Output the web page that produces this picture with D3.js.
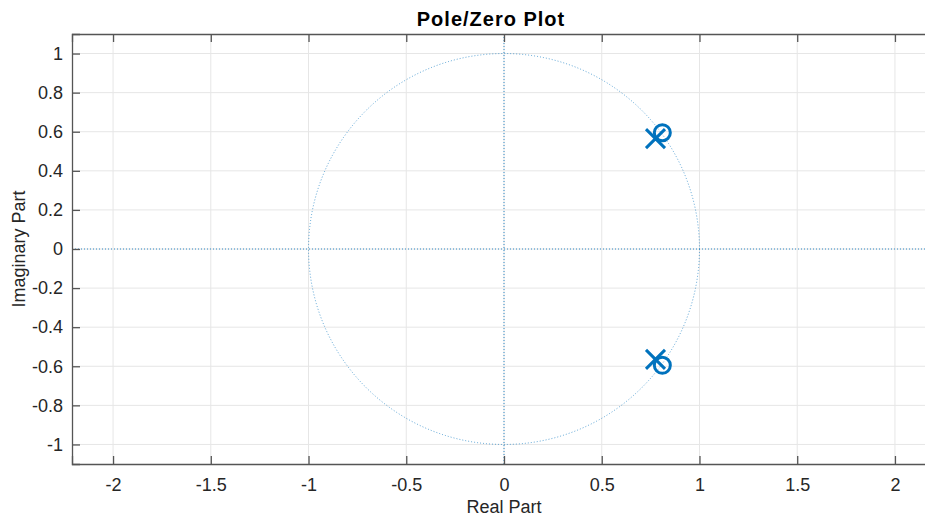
<!DOCTYPE html>
<html>
<head>
<meta charset="utf-8">
<script src="https://cdn.jsdelivr.net/npm/d3@7"></script>
<style>
  body { margin: 0; background: #fff; }
  svg { font-family: "Liberation Sans", Arial, sans-serif; }
</style>
</head>
<body>
<svg id="chart" width="925" height="517"></svg>
<script>
// values
const xTicks = [-2, -1.5, -1, -0.5, 0, 0.5, 1, 1.5, 2];
const yTicks = [-1, -0.8, -0.6, -0.4, -0.2, 0, 0.2, 0.4, 0.6, 0.8, 1];
const zerosRe = [0.81, 0.81];
const zerosIm = [0.595, -0.595];
const polesRe = [0.775, 0.775];
const polesIm = [0.565, -0.565];

const box = {left: 72, top: 34, bottom: 464, right: 936};
const blue = "#0072BD";

const svg = d3.select("#chart");

// axis ranges (right edge runs off the window like the reference)
const xscale = d3.scaleLinear().domain([-2.21, 2.21]).range([box.left, box.right]);
const yscale = d3.scaleLinear().domain([-1.1, 1.1]).range([box.bottom, box.top]);

const plot = svg.append("g");

// gridlines
plot.append("g").selectAll("line").data(xTicks).enter().append("line")
    .attr("x1", d => xscale(d)).attr("x2", d => xscale(d))
    .attr("y1", box.top).attr("y2", box.bottom)
    .attr("stroke", "#e6e6e6").attr("stroke-width", 1);
plot.append("g").selectAll("line").data(yTicks).enter().append("line")
    .attr("y1", d => yscale(d)).attr("y2", d => yscale(d))
    .attr("x1", box.left).attr("x2", box.right)
    .attr("stroke", "#e6e6e6").attr("stroke-width", 1);

// unit circle + zero axes, dotted
plot.append("circle")
    .attr("cx", xscale(0)).attr("cy", yscale(0))
    .attr("r", xscale(1) - xscale(0))
    .attr("fill", "none").attr("stroke", blue).attr("stroke-width", 0.8)
    .attr("stroke-dasharray", "1,2").attr("opacity", 0.8);
plot.append("line")
    .attr("x1", xscale(0)).attr("x2", xscale(0))
    .attr("y1", box.top).attr("y2", box.bottom)
    .attr("stroke", blue).attr("stroke-width", 0.8).attr("stroke-dasharray", "1,2");
plot.append("line")
    .attr("x1", box.left).attr("x2", box.right)
    .attr("y1", yscale(0)).attr("y2", yscale(0))
    .attr("stroke", blue).attr("stroke-width", 0.8).attr("stroke-dasharray", "1,2");

// axes
const axisColor = "#555";
const tickFmt = d => String(d);

const bottomAxis = svg.append("g").attr("transform", `translate(0,${box.bottom})`)
    .call(d3.axisBottom(xscale).tickValues(xTicks).tickSize(-8).tickFormat(tickFmt));
bottomAxis.selectAll(".tick text").attr("y", 27).attr("dy", 0);
const topAxis = svg.append("g").attr("transform", `translate(0,${box.top})`)
    .call(d3.axisTop(xscale).tickValues(xTicks).tickSize(-8).tickFormat(""));
const leftAxis = svg.append("g").attr("transform", `translate(${box.left},0)`)
    .call(d3.axisLeft(yscale).tickValues(yTicks).tickSize(-8).tickPadding(9).tickFormat(tickFmt));

[bottomAxis, topAxis, leftAxis].forEach(a => {
    a.select(".domain").attr("stroke", axisColor).attr("stroke-width", 1.3);
    a.selectAll(".tick line").attr("stroke", axisColor).attr("stroke-width", 1.3);
    a.selectAll(".tick text").attr("fill", "#262626").attr("font-size", 18);
});

// poles (x) and zeros (o)
const poles = polesRe.map((r, i) => [r, polesIm[i]]);
const zeros = zerosRe.map((r, i) => [r, zerosIm[i]]);

svg.append("g").selectAll("circle").data(zeros).enter().append("circle")
    .attr("cx", d => xscale(d[0])).attr("cy", d => yscale(d[1]))
    .attr("r", 8)
    .attr("fill", "none").attr("stroke", blue).attr("stroke-width", 3);

const xs = 9.5;
svg.append("g").selectAll("path").data(poles).enter().append("path")
    .attr("d", d => {
        const cx = xscale(d[0]), cy = yscale(d[1]);
        return `M${cx - xs},${cy - xs}L${cx + xs},${cy + xs}M${cx - xs},${cy + xs}L${cx + xs},${cy - xs}`;
    })
    .attr("fill", "none").attr("stroke", blue).attr("stroke-width", 3);

// labels
svg.append("text").attr("x", 491).attr("y", 26)
    .attr("text-anchor", "middle").attr("font-size", 20).attr("font-weight", "bold")
    .attr("letter-spacing", 1).attr("fill", "#000").text("Pole/Zero Plot");
svg.append("text").attr("x", xscale(0)).attr("y", 513)
    .attr("text-anchor", "middle").attr("font-size", 18).attr("fill", "#262626")
    .text("Real Part");
svg.append("text")
    .attr("transform", `translate(25,${yscale(0)}) rotate(-90)`)
    .attr("text-anchor", "middle").attr("font-size", 18).attr("fill", "#262626")
    .text("Imaginary Part");
</script>
</body>
</html>
